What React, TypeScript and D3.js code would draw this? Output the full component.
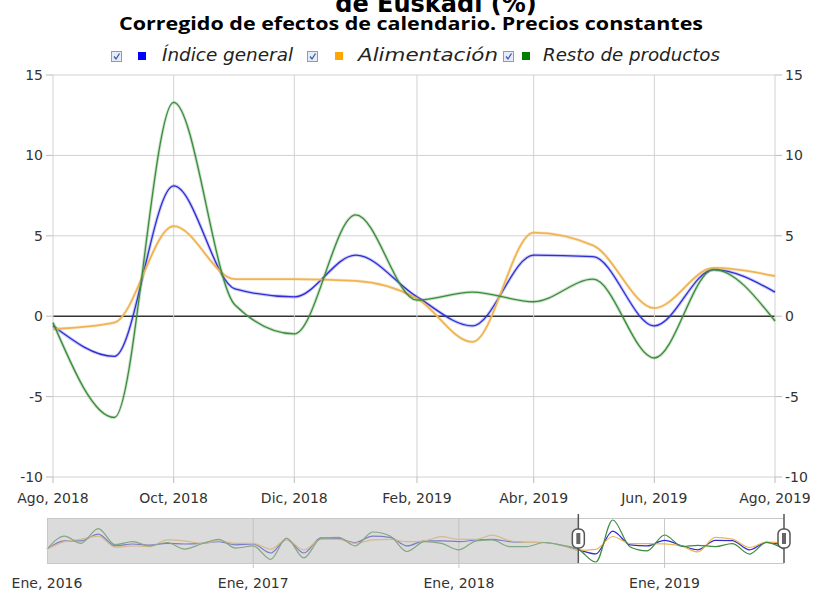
import React from 'react';
import * as d3 from 'd3';

// textos
const TITULO = 'de Euskadi (%)';
const SUBTITULO = 'Corregido de efectos de calendario. Precios constantes';
const MESES = ['Ene', 'Feb', 'Mar', 'Abr', 'May', 'Jun', 'Jul', 'Ago', 'Sep', 'Oct', 'Nov', 'Dic'];
const SERIES = ['Índice general', 'Alimentación', 'Resto de productos'];
const Y_TICKS = [-10, -5, 0, 5, 10, 15];

// meses desde Ene 2016 hasta Ago 2019
const START_YEAR = 2016;
const N_MONTHS = 44;
const ZOOM_FROM = 31; // Ago 2018

const indiceGeneral = [
  -0.3, 3.6, 3.6, 6.7, 1.2, 2.1, 1.6, 2.4, 2.1, 2.4, 3.2, 1.7,
  2.1, -2.1, 4.3, -2.1, 5.0, 4.7, 2.8, 5.8, 5.2, 1.2, 3.6, 3.6,
  3.2, 4.0, 4.3, 3.2, 2.9, 2.8, 1.6, -0.6, -2.5, 8.1, 1.7, 1.2,
  3.8, 1.2, -0.6, 3.8, 3.7, -0.6, 2.9, 1.5,
];
const alimentacion = [
  -0.3, 3.2, 4.3, 5.8, 0.6, 1.2, 0.9, 4.0, 3.6, 2.4, 3.6, 2.4,
  2.4, -0.3, 4.3, -0.7, 4.3, 4.3, 2.4, 4.0, 4.3, 3.2, 3.6, 5.5,
  4.3, 4.3, 6.2, 3.6, 2.8, 2.8, 1.6, -0.8, -0.4, 5.6, 2.3, 2.3,
  2.2, 1.1, -1.6, 5.2, 4.4, 0.5, 3.0, 2.5,
];
const restoProductos = [
  -0.3, 5.8, 2.4, 9.3, 1.8, 3.2, 1.2, 2.8, -0.3, 2.1, 4.3, 0.2,
  1.2, -5.1, 4.8, -4.4, 4.7, 5.2, 1.2, 7.7, 5.8, -1.4, 3.2, 2.4,
  -0.6, 3.6, 4.0, 0.9, 0.9, 2.8, 1.6, -0.4, -6.3, 13.3, 0.7, -1.1,
  6.3, 1.0, 1.5, 0.9, 2.3, -2.6, 2.9, -0.3,
];

const LINE_COLORS = ['#2e2ed6', '#efb555', '#3b8c3b'];
const LEGEND_COLORS = ['#0000ff', '#ffa500', '#008000'];

const W = 813;
const H = 592;
const plot = { left: 53, right: 775, top: 75, bottom: 477 };
const nav = { left: 47, right: 784, top: 518, bottom: 563 };
const legendX = [
  { box: 111, sq: 138, text: 162, w: 131 },
  { box: 307, sq: 335, text: 358, w: 140 },
  { box: 503, sq: 522, text: 543, w: 177 },
];

const FONT = 'DejaVu Sans, Verdana, sans-serif';

export default function App() {
  const dates = d3.range(N_MONTHS).map((i) => new Date(START_YEAR, i, 1));
  const allSeries = [indiceGeneral, alimentacion, restoProductos];
  const fmt = (d: Date) => `${MESES[d.getMonth()]}, ${d.getFullYear()}`;

  // main chart
  const x = d3.scaleTime().domain([dates[ZOOM_FROM], dates[N_MONTHS - 1]]).range([plot.left, plot.right]);
  const y = d3.scaleLinear().domain([-10, 15]).range([plot.bottom, plot.top]);
  const xTicks = d3.range(ZOOM_FROM, N_MONTHS, 2).map((i) => dates[i]);
  const line = d3
    .line<number>()
    .x((d, i) => x(dates[ZOOM_FROM + i]))
    .y((d) => y(d))
    .curve(d3.curveMonotoneX);

  // navigator
  const nx = d3.scaleTime().domain([dates[0], dates[N_MONTHS - 1]]).range([nav.left, nav.right]);
  const ext = d3.extent(allSeries.flat()) as [number, number];
  const ny = d3.scaleLinear().domain(ext).range([nav.bottom - 1, nav.top + 2]);
  const navLine = d3
    .line<number>()
    .x((d, i) => nx(dates[i]))
    .y((d) => ny(d))
    .curve(d3.curveMonotoneX);
  const navTicks = dates.filter((d) => d.getMonth() === 0);
  const selL = nx(dates[ZOOM_FROM]);
  const selR = nx(dates[N_MONTHS - 1]);

  const handle = (hx: number, k: number) => (
    <g key={k}>
      <line x1={hx} x2={hx} y1={nav.top - 4} y2={nav.bottom} stroke="#555" strokeWidth={1.5} />
      <rect x={hx - 6} y={529} width={12} height={19} rx={5} fill="#fff" stroke="#555" strokeWidth={1.5} />
      <rect x={hx - 2} y={533} width={4} height={11} fill="#666" />
    </g>
  );

  return (
    <svg width={W} height={H} style={{ position: 'absolute', left: 0, top: 0, background: '#fff' }}>
      {/* titles */}
      <text x={436} y={12} textAnchor="middle" fontFamily={FONT} fontWeight="bold" fontSize={24} fill="#000">
        {TITULO}
      </text>
      <text
        x={411}
        y={30}
        textAnchor="middle"
        fontFamily="Open Sans, sans-serif"
        fontWeight="bold"
        fontSize={18}
        textLength={584}
        lengthAdjust="spacingAndGlyphs"
        fill="#000"
      >
        {SUBTITULO}
      </text>

      {/* legend */}
      {SERIES.map((s, i) => (
        <g key={s}>
          <rect x={legendX[i].box + 0.5} y={51.5} width={10} height={10} fill="#e6ecf7" stroke="#8a9bbd" />
          <path
            d={`M${legendX[i].box + 3},${56.5} L${legendX[i].box + 5},${59} L${legendX[i].box + 8.5},${53.5}`}
            fill="none"
            stroke="#3a5aa8"
            strokeWidth={1.3}
          />
          <rect x={legendX[i].sq} y={52} width={8} height={8} fill={LEGEND_COLORS[i]} />
          <text
            x={legendX[i].text}
            y={61}
            fontFamily={FONT}
            fontStyle="italic"
            fontSize={18}
            textLength={legendX[i].w}
            lengthAdjust="spacingAndGlyphs"
            fill="#222"
          >
            {s}
          </text>
        </g>
      ))}

      {/* grid */}
      {Y_TICKS.map((t) => (
        <g key={'y' + t}>
          <line x1={plot.left} x2={plot.right} y1={y(t)} y2={y(t)} stroke={t === 0 ? '#333' : '#d2d2d2'} strokeWidth={t === 0 ? 1.4 : 1} />
          <line x1={plot.left - 7} x2={plot.left} y1={y(t)} y2={y(t)} stroke="#bbb" />
          <line x1={plot.right} x2={plot.right + 7} y1={y(t)} y2={y(t)} stroke="#bbb" />
          <text x={plot.left - 10} y={y(t)} dy="0.35em" textAnchor="end" fontFamily={FONT} fontSize={14} fill="#333">
            {t}
          </text>
          <text x={plot.right + 10} y={y(t)} dy="0.35em" textAnchor="start" fontFamily={FONT} fontSize={14} fill="#333">
            {t}
          </text>
        </g>
      ))}
      {xTicks.map((d, i) => (
        <g key={'x' + i}>
          <line x1={x(d)} x2={x(d)} y1={plot.top} y2={plot.bottom} stroke="#d2d2d2" />
          <line x1={x(d)} x2={x(d)} y1={plot.bottom} y2={plot.bottom + 6} stroke="#bbb" />
          <text x={x(d)} y={503} textAnchor="middle" fontFamily={FONT} fontSize={14} fill="#333">
            {fmt(d)}
          </text>
        </g>
      ))}

      {/* series */}
      {allSeries.map((s, i) => (
        <g key={'s' + i}>
          <path d={line(s.slice(ZOOM_FROM)) || ''} fill="none" stroke={LINE_COLORS[i]} strokeOpacity={0.25} strokeWidth={3.2} />
          <path d={line(s.slice(ZOOM_FROM)) || ''} fill="none" stroke={LINE_COLORS[i]} strokeWidth={i === 1 ? 1.8 : 1.3} />
        </g>
      ))}

      {/* navigator */}
      <rect x={nav.left} y={nav.top} width={nav.right - nav.left} height={nav.bottom - nav.top} fill="#fff" />
      {navTicks.map((d, i) => (
        <g key={'n' + i}>
          {i > 0 && <line x1={nx(d)} x2={nx(d)} y1={nav.top} y2={nav.bottom + 5} stroke="#c8c8c8" />}
          <text x={nx(d)} y={588} textAnchor="middle" fontFamily={FONT} fontSize={14} fill="#333">
            {fmt(d)}
          </text>
        </g>
      ))}
      {allSeries.map((s, i) => (
        <path key={'ns' + i} d={navLine(s) || ''} fill="none" stroke={LINE_COLORS[i]} strokeWidth={1.2} />
      ))}
      <rect x={nav.left} y={nav.top} width={selL - nav.left} height={nav.bottom - nav.top} fill="#bdbdbd" fillOpacity={0.55} />
      <line x1={nav.left} x2={nav.right} y1={nav.top + 0.5} y2={nav.top + 0.5} stroke="#c8c8c8" />
      <line x1={nav.left} x2={nav.right} y1={nav.bottom + 0.5} y2={nav.bottom + 0.5} stroke="#c8c8c8" />
      <line x1={nav.left + 0.5} x2={nav.left + 0.5} y1={nav.top} y2={nav.bottom} stroke="#c8c8c8" />
      {handle(selL, 0)}
      {handle(selR, 1)}
    </svg>
  );
}
